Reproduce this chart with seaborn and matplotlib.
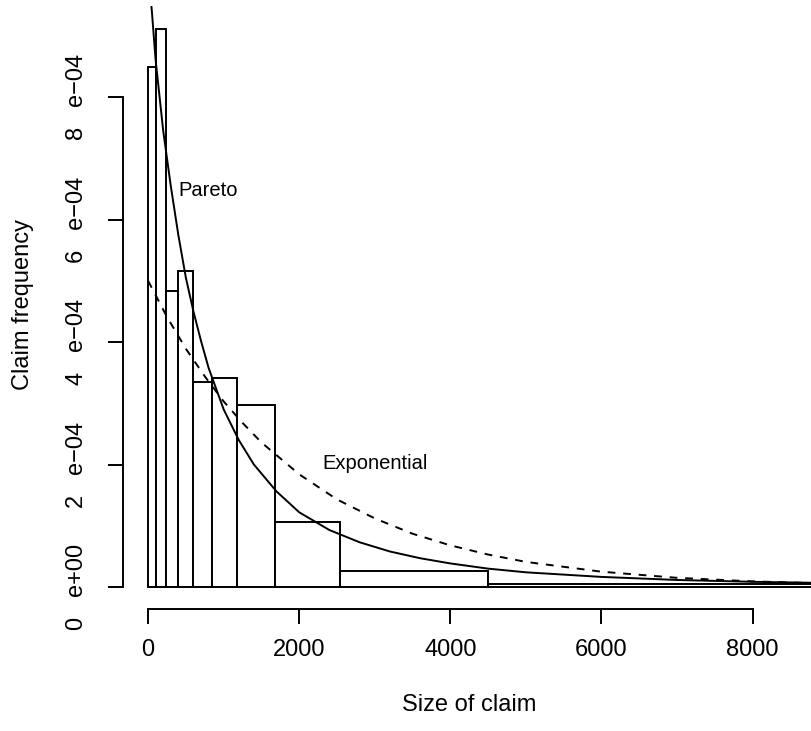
import matplotlib
matplotlib.use("Agg")
import matplotlib.pyplot as plt
import seaborn as sns


# ============================================================
# DATA
# ============================================================
# histogram of claim sizes, unequal bins, heights are densities
bin_edges = [0, 105, 240, 395, 588, 840, 1175, 1680, 2535, 4500, 30000]
bar_heights = [8.49e-4, 9.11e-4, 4.83e-4, 5.16e-4, 3.34e-4, 3.42e-4,
               2.97e-4, 1.066e-4, 0.256e-4, 0.045e-4]

# fitted Pareto density (solid line)
pareto_x = [0, 50, 100, 200, 300, 400, 500, 600, 700, 800, 1000, 1200, 1400,
            1700, 2000, 2400, 2800, 3200, 3600, 4000, 4500, 5000, 6000, 7000,
            8000, 9000]
pareto_y = [10.1e-4, 9.40e-4, 8.60e-4, 7.45e-4, 6.55e-4, 5.75e-4, 5.05e-4,
            4.50e-4, 4.02e-4, 3.58e-4, 2.90e-4, 2.40e-4, 2.00e-4, 1.56e-4,
            1.22e-4, 0.93e-4, 0.73e-4, 0.58e-4, 0.47e-4, 0.385e-4, 0.30e-4,
            0.24e-4, 0.165e-4, 0.115e-4, 0.085e-4, 0.065e-4]

# fitted exponential density (dashed line)
exp_x = [0, 250, 500, 750, 1000, 1250, 1500, 2000, 2500, 3000, 3500, 4000,
         4500, 5000, 6000, 7000, 8000, 9000]
exp_y = [5.00e-4, 4.41e-4, 3.89e-4, 3.44e-4, 3.03e-4, 2.68e-4, 2.36e-4,
         1.84e-4, 1.43e-4, 1.12e-4, 0.87e-4, 0.68e-4, 0.53e-4, 0.41e-4,
         0.25e-4, 0.15e-4, 0.092e-4, 0.056e-4]

x_ticks = [0, 2000, 4000, 6000, 8000]
y_ticks = [0, 2e-4, 4e-4, 6e-4, 8e-4]
y_tick_labels = ["0   e+00", "2   e\u221204", "4   e\u221204",
                 "6   e\u221204", "8   e\u221204"]

# ============================================================
# STYLE
# ============================================================
sns.set_style("ticks")
plt.rcParams['font.family'] = ['Liberation Sans', 'DejaVu Sans']
plt.rcParams['text.color'] = 'black'
plt.rcParams['axes.labelcolor'] = 'black'
plt.rcParams['xtick.color'] = 'black'
plt.rcParams['ytick.color'] = 'black'

W, H = 811, 731
fig = plt.figure(figsize=(W / 100, H / 100), dpi=100)
# plot region in pixels: x 123..811, y 6..609
ax = fig.add_axes([123 / W, (H - 609) / H, (W - 123) / W, (609 - 6) / H])

# ============================================================
# PLOT
# ============================================================
bin_mids = [(a + b) / 2 for a, b in zip(bin_edges[:-1], bin_edges[1:])]
sns.histplot(x=bin_mids, weights=bar_heights, bins=bin_edges, stat='count',
             color='white', edgecolor='black', linewidth=1.4, alpha=1, ax=ax)

sns.lineplot(x=pareto_x, y=pareto_y, color='black', linewidth=1.4, ax=ax)
sns.lineplot(x=exp_x, y=exp_y, color='black', linewidth=1.4,
             linestyle=(0, (4, 4)), ax=ax)

ax.text(800, 6.48e-4, "Pareto", ha='center', va='center', fontsize=14.5,
        color='black')
ax.text(3000, 2.02e-4, "Exponential", ha='center', va='center',
        fontsize=14.5, color='black')

ax.set_xlim(-332, 8773)
ax.set_ylim(-0.359e-4, 9.486e-4)

ax.set_xticks(x_ticks)
ax.set_xticklabels([str(v) for v in x_ticks])
ax.set_yticks(y_ticks)
ax.set_yticklabels(y_tick_labels, rotation=90, va='center')

ax.tick_params(axis='both', direction='out', length=10.8, width=1.4,
               labelsize=17, color='black', labelcolor='black')
ax.tick_params(axis='x', pad=11)
ax.tick_params(axis='y', pad=14.4)

for side in ['top', 'right']:
    ax.spines[side].set_visible(False)
ax.spines['left'].set_bounds(0, 8e-4)
ax.spines['bottom'].set_bounds(0, 8000)
for side in ['left', 'bottom']:
    ax.spines[side].set_linewidth(1.4)
    ax.spines[side].set_color('black')

ax.set_xlabel("")
ax.set_ylabel("")
fig.text(469 / W, 1 - 705 / H, "Size of claim", ha='center', va='center',
         fontsize=17, color='black')
fig.text(23 / W, 1 - 305 / H, "Claim frequency", ha='center', va='center',
         rotation=90, fontsize=17, color='black')

fig.savefig("out.png", dpi=100, facecolor='white')
